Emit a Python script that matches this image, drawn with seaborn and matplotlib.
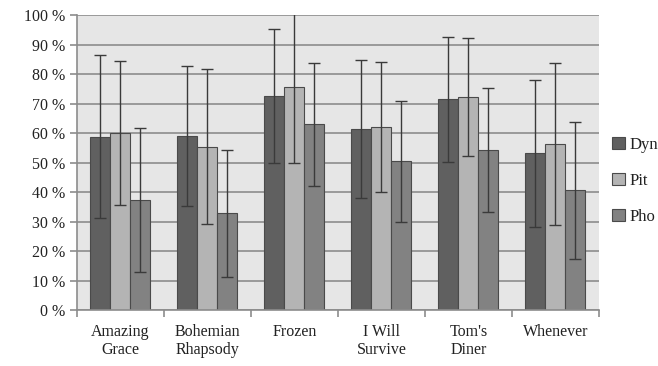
import numpy as np
import pandas as pd
import matplotlib
matplotlib.use("Agg")
import matplotlib.pyplot as plt
import seaborn as sns
from matplotlib.ticker import FixedLocator

songs = ["Amazing\nGrace", "Bohemian\nRhapsody", "Frozen", "I Will\nSurvive", "Tom's\nDiner", "Whenever"]
series = ["Dyn", "Pit", "Pho"]

dyn_mean = [58.8, 59.1, 72.5, 61.2, 71.4, 53.1]
pit_mean = [59.9, 55.4, 75.7, 62.0, 72.2, 56.3]
pho_mean = [37.3, 32.8, 62.9, 50.4, 54.2, 40.6]

dyn_err = [27.7, 23.7, 22.8, 23.4, 21.3, 25.0]
pit_err = [24.4, 26.2, 25.7, 22.0, 20.1, 27.5]
pho_err = [24.4, 21.5, 20.9, 20.5, 20.9, 23.2]

colors = ["#606060", "#b4b4b4", "#828282"]

rows = []
for name, means, errs in zip(series, [dyn_mean, pit_mean, pho_mean], [dyn_err, pit_err, pho_err]):
    for song, m, e in zip(songs, means, errs):
        rows.append({"song": song, "series": name, "value": m, "err": e})
df = pd.DataFrame(rows)

fig = plt.figure(figsize=(6.58, 3.66), dpi=100)
ax = fig.add_axes([0.117, 0.153, 0.793, 0.806])
ax.set_facecolor("#e6e6e6")

sns.barplot(data=df, x="song", y="value", hue="series", palette=colors,
            width=0.69, edgecolor="#4a4a4a", linewidth=0.8, errorbar=None,
            ax=ax, zorder=2)

# error bars drawn from the bar centres
for container, name in zip(ax.containers, series):
    sub = df[df["series"] == name]
    xs = [b.get_x() + b.get_width() / 2 for b in container]
    ax.errorbar(xs, sub["value"], yerr=sub["err"], fmt="none", ecolor="#3a3a3a",
                elinewidth=1.0, capsize=4.5, capthick=1.0, zorder=3, clip_on=True)

ax.set_ylim(0, 100)
ax.set_xlim(-0.5, len(songs) - 0.5)
ax.set_yticks(np.arange(0, 101, 10))
ax.set_yticklabels([f"{v} %" for v in range(0, 101, 10)])
ax.yaxis.grid(True, color="#8c8c8c", linewidth=1.2, zorder=0)
ax.set_axisbelow(True)

ax.xaxis.set_minor_locator(FixedLocator(np.arange(-0.5, len(songs), 1.0)))
ax.tick_params(axis="x", which="major", length=0, pad=10)
ax.tick_params(axis="x", which="minor", length=5, color="#8c8c8c", width=1.2)
ax.tick_params(axis="y", length=5, color="#8c8c8c", width=1.2)

for lab in ax.get_xticklabels() + ax.get_yticklabels():
    lab.set_fontfamily("Liberation Serif")
    lab.set_fontsize(11.5)
    lab.set_color("#222222")

for side in ["top", "right"]:
    ax.spines[side].set_visible(False)
for side in ["left", "bottom"]:
    ax.spines[side].set_color("#8c8c8c")
    ax.spines[side].set_linewidth(1.2)

ax.set_xlabel("")
ax.set_ylabel("")

leg = ax.legend(loc="center left", bbox_to_anchor=(1.026, 0.437), frameon=False,
                prop={"family": "Liberation Serif", "size": 12},
                handlelength=0.75, handleheight=0.75, handletextpad=0.3,
                labelspacing=1.2, borderpad=0, borderaxespad=0)
for t in leg.get_texts():
    t.set_color("#222222")

fig.savefig("out.png", dpi=100)
